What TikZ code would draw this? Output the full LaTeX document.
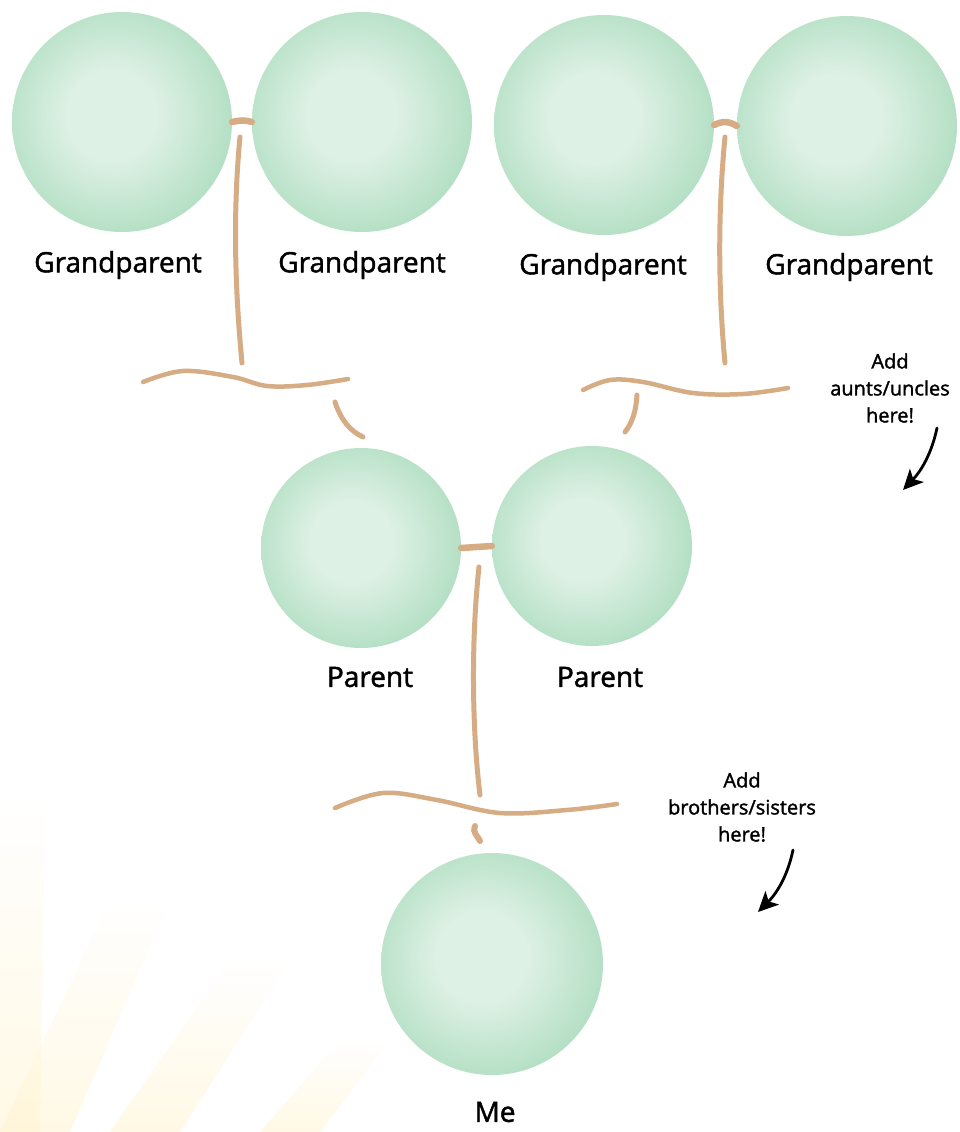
\documentclass[tikz,border=0pt]{standalone}
\usepackage{fontspec}
\setmainfont{Open Sans}[BoldFont={Open Sans}, BoldFeatures={FakeBold=1.6}]
\usetikzlibrary{arrows.meta}
\definecolor{cord}{RGB}{214,172,132}
\definecolor{ringgreen}{RGB}{135,202,160}
\definecolor{midgreen}{RGB}{172,220,190}
\definecolor{coregreen}{RGB}{222,241,229}
\definecolor{raycol}{RGB}{255,244,208}
\pgfdeclareradialshading{orb}{\pgfpoint{-3bp}{2bp}}{color(0bp)=(coregreen); color(10bp)=(coregreen); color(30bp)=(midgreen); color(44bp)=(ringgreen); color(50bp)=(ringgreen)}
\tikzset{
  person/.style={circle, inner sep=0pt, shade, shading=orb},
  bigp/.style={person, minimum size=220pt},
  midp/.style={person, minimum size=200pt},
  lbl/.style={font=\fontsize{28}{31}\selectfont\bfseries, text=black},
  hint/.style={font=\fontsize{20}{27}\selectfont\bfseries, align=center, text=black},
  link/.style={draw=cord, line width=5pt, line cap=round},
  couple/.style={draw=cord, line width=6.5pt, line cap=round},
  pointer/.style={draw=black, line width=2.8pt, line cap=round, -{Stealth[length=20pt,width=19pt,inset=5pt]}},
  sunray/.style={top color=white, bottom color=raycol, draw=none, opacity=0.55}
}
\begin{document}
\begin{tikzpicture}[x=1pt,y=-1pt]
\useasboundingbox (0,0) rectangle (959,1132);
\fill[white] (0,0) rectangle (959,1132);
% faint sun rays
\shade[sunray] (-10,1132) -- (0,800) -- (45,800) -- (40,1132) -- cycle;
\shade[sunray] (0,1132) -- (110,900) -- (170,900) -- (70,1132) -- cycle;
\shade[sunray] (110,1132) -- (230,960) -- (290,960) -- (180,1132) -- cycle;
\shade[sunray] (260,1132) -- (340,1040) -- (390,1040) -- (320,1132) -- cycle;

% people
\node[bigp] (gp1) at (122,122) {};
\node[bigp] (gp2) at (362,122) {};
\node[bigp] (gp3) at (604,125) {};
\node[bigp] (gp4) at (847,126) {};
\node[midp] (p1) at (361,548) {};
\node[midp] (p2) at (592,546) {};
\node[person, minimum size=222pt] (me) at (492,964) {};

% labels
\node[lbl] (lgp1) at (118,265) {Grandparent};
\node[lbl] (lgp2) at (362,265) {Grandparent};
\node[lbl] (lgp3) at (603,267) {Grandparent};
\node[lbl] (lgp4) at (849,267) {Grandparent};
\node[lbl] (lp1) at (370,677) {Parent};
\node[lbl] (lp2) at (600,677) {Parent};
\node[lbl] (lme) at (495,1112) {Me};
\node[hint] (aunts) at (890,388) {Add\\aunts/uncles\\here!};
\node[hint] (sibs) at (742,807) {Add\\brothers/sisters\\here!};

% marriage dashes
\draw[couple] (gp1.east) .. controls (240,120) and (246,120) .. (gp2.west);
\draw[couple] (gp3.east) .. controls (722,121) and (729,121) .. (gp4.west);
\draw[couple] (p1.east) -- (p2.west);

% descent lines
\coordinate (d1t) at (240,137); \coordinate (d1b) at (242,363);
\coordinate (d2t) at (725,137); \coordinate (d2b) at (725,363);
\coordinate (d3t) at (479,567); \coordinate (d3b) at (480,795);
\draw[link] (d1t) .. controls (232,220) and (236,300) .. (d1b);
\draw[link] (d2t) .. controls (717,220) and (719,300) .. (d2b);
\draw[link] (d3t) .. controls (471,640) and (472,730) .. (d3b);

% sibling lines
\draw[link, line width=4.5pt] plot[smooth, tension=0.6] coordinates {(143,382) (183,371) (233,377) (267,386) (307,385) (348,379)};
\draw[link, line width=4.5pt] plot[smooth, tension=0.6] coordinates {(583,390) (610,380) (643,382) (693,393) (743,394) (788,388)};
\draw[link, line width=4.5pt] plot[smooth, tension=0.6] coordinates {(335,808) (383,793) (437,800) (500,813) (567,810) (617,804)};

% drops to children
\coordinate (c1t) at (335,402); \coordinate (c1b) at (363,437);
\coordinate (c2t) at (637,395); \coordinate (c2b) at (625,432);
\coordinate (c3t) at (475,826); \coordinate (c3b) at (480,841);
\draw[link] (c1t) .. controls (341,420) and (350,431) .. (c1b);
\draw[link] (c2t) .. controls (636,410) and (633,422) .. (c2b);
\draw[link, line width=6pt] (c3t) .. controls (472,833) and (478,836) .. (c3b);

% hint arrows
\coordinate (a1) at (937,428); \coordinate (a2) at (903,490);
\coordinate (b1) at (793,850); \coordinate (b2) at (758,912);
\draw[pointer] (a1) .. controls (932,452) and (922,470) .. (a2);
\draw[pointer] (b1) .. controls (788,874) and (778,892) .. (b2);
\end{tikzpicture}
\end{document}
